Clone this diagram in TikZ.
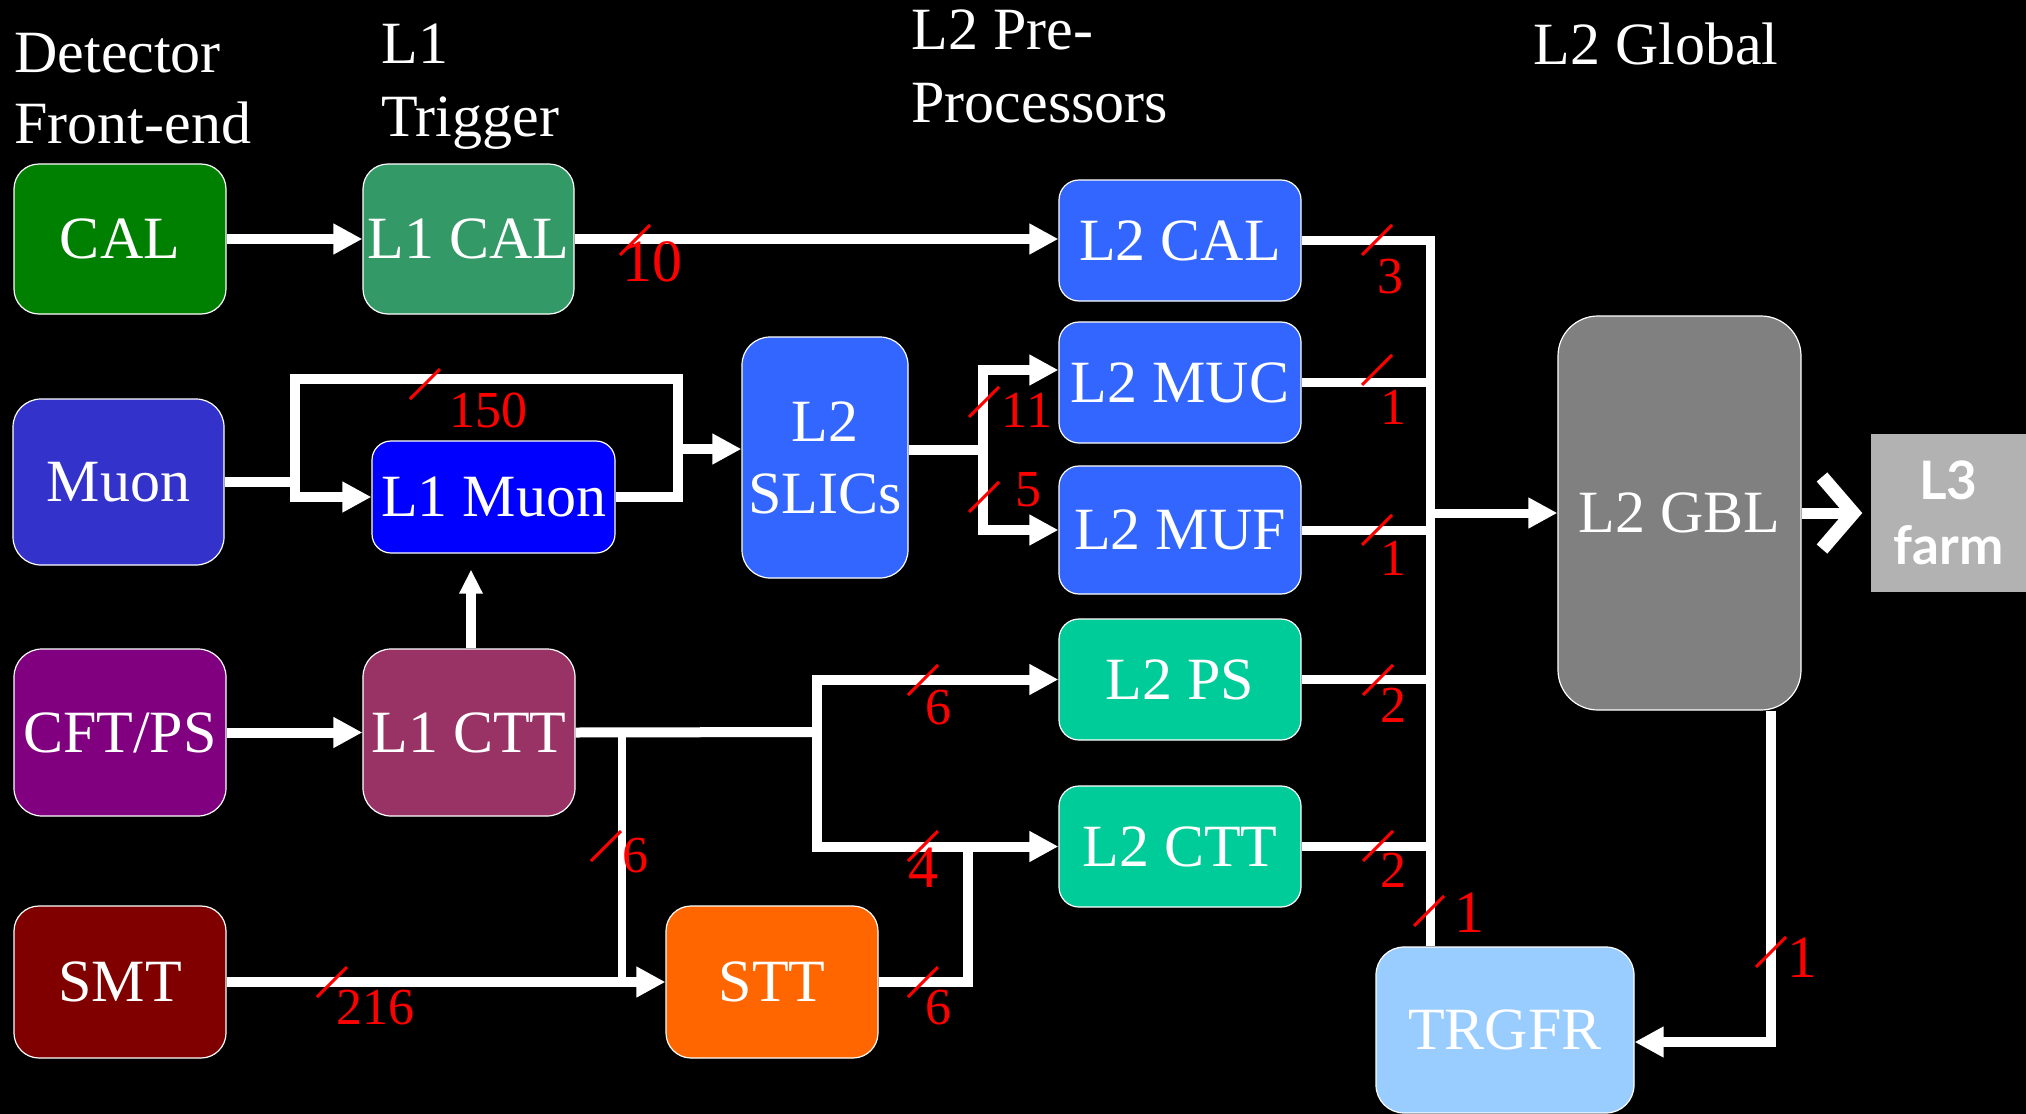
\documentclass[tikz,border=0pt]{standalone}
\usepackage{fontspec}
\setmainfont{Liberation Serif}
\newfontfamily\latofont{Lato}
\usetikzlibrary{arrows.meta}
\definecolor{cCAL}{HTML}{008000}
\definecolor{cLCAL}{HTML}{339966}
\definecolor{cMUON}{HTML}{3333CC}
\definecolor{cLMUON}{HTML}{0000FF}
\definecolor{cCFT}{HTML}{800080}
\definecolor{cLCTT}{HTML}{993366}
\definecolor{cSMT}{HTML}{800000}
\definecolor{cSTT}{HTML}{FF6600}
\definecolor{cBLUE}{HTML}{3366FF}
\definecolor{cTEAL}{HTML}{00CC99}
\definecolor{cTRG}{HTML}{99CCFF}
\definecolor{cGBL}{HTML}{808080}
\definecolor{cLTHREE}{HTML}{B2B2B2}
\begin{document}
\begin{tikzpicture}[x=0.5pt,y=-0.5pt,
  box/.style={draw=white, line width=0.6pt, text=white, inner sep=0pt,
    font=\fontsize{30}{36}\selectfont, align=center},
  hdr/.style={text=white, inner sep=0pt, anchor=base west, font=\fontsize{30}{36}\selectfont},
  wire/.style={draw=white, line width=5pt, line join=miter},
  thinwire/.style={draw=white, line width=4pt, line join=miter},
  buswire/.style={draw=white, line width=4.5pt, line join=miter},
  arrowtip/.style={-{Triangle[length=14.5pt,width=14.5pt]}},
  smalltip/.style={-{Triangle[length=12pt,width=11pt]}},
  slash/.style={draw=red, line width=1.5pt},
  num/.style={text=red, inner sep=0pt, font=\fontsize{26}{30}\selectfont},
  bignum/.style={text=red, inner sep=0pt, font=\fontsize{30}{34}\selectfont},
]
\useasboundingbox[fill=black] (0,0) rectangle (2026,1114);

% headers
\node[hdr] (h1a) at (14,72) {Detector};
\node[hdr] (h1b) at (14,143) {Front-end};
\node[hdr] (h2a) at (381,63) {L1};
\node[hdr] (h2b) at (381,136) {Trigger};
\node[hdr] (h3a) at (911,49) {L2 Pre-};
\node[hdr] (h3b) at (911,122) {Processors};
\node[hdr] (h4a) at (1533,64) {L2 Global};

% boxes
\node[box, fill=cCAL, minimum width=106pt, minimum height=75pt, rounded corners=12.5pt] (cal) at (120,239) {CAL};
\node[box, fill=cLCAL, minimum width=105.5pt, minimum height=75pt, rounded corners=12.5pt] (l1cal) at (468.5,239) {L1 CAL};
\node[box, fill=cMUON, minimum width=105.5pt, minimum height=83pt, rounded corners=14pt] (muon) at (118.5,482) {Muon};
\node[box, fill=cLMUON, minimum width=121.5pt, minimum height=56pt, rounded corners=9.5pt] (l1muon) at (493.5,497) {L1 Muon};
\node[box, fill=cCFT, minimum width=106pt, minimum height=83.5pt, rounded corners=14pt] (cft) at (120,732.5) {CFT/PS};
\node[box, fill=cLCTT, minimum width=106pt, minimum height=83.5pt, rounded corners=14pt] (l1ctt) at (469,732.5) {L1 CTT};
\node[box, fill=cSMT, minimum width=106pt, minimum height=76pt, rounded corners=12.5pt] (smt) at (120,982) {SMT};
\node[box, fill=cSTT, minimum width=106pt, minimum height=76pt, rounded corners=12.5pt] (stt) at (772,982) {STT};
\node[box, fill=cBLUE, minimum width=83pt, minimum height=120.5pt, rounded corners=14pt] (slics) at (825,457.5) {L2\\SLICs};
\node[box, fill=cBLUE, minimum width=121pt, minimum height=60.5pt, rounded corners=10pt] (l2cal) at (1180,240.5) {L2 CAL};
\node[box, fill=cBLUE, minimum width=121pt, minimum height=60.5pt, rounded corners=10pt] (l2muc) at (1180,382.5) {L2 MUC};
\node[box, fill=cBLUE, minimum width=121pt, minimum height=64pt, rounded corners=10pt] (l2muf) at (1180,530) {L2 MUF};
\node[box, fill=cTEAL, minimum width=121pt, minimum height=60.5pt, rounded corners=10pt] (l2ps) at (1180,679.5) {L2 PS};
\node[box, fill=cTEAL, minimum width=121pt, minimum height=60.5pt, rounded corners=10pt] (l2ctt) at (1180,846.5) {L2 CTT};
\node[box, fill=cTRG, minimum width=129pt, minimum height=83pt, rounded corners=14pt] (trgfr) at (1505,1030) {TRGFR};
\node[box, fill=cGBL, minimum width=121.5pt, minimum height=197pt, rounded corners=20pt] (gbl) at (1679.5,513) {L2 GBL};
\node[fill=cLTHREE, text=white, inner sep=0pt, minimum width=77.5pt, minimum height=79pt, align=center,
  font=\latofont\bfseries\fontsize{26.5}{32.5}\selectfont] (l3) at (1948.5,513) {L3\\farm};

% junction coordinates
\coordinate (mj) at (295,482);
\coordinate (mtop) at (678,379);
\coordinate (mx) at (678,449);
\coordinate (cx) at (471,0);
\coordinate (f1) at (817,732);
\coordinate (f2) at (622,732);
\coordinate (f3) at (968,846.5);
\coordinate (f4) at (983,450);
\coordinate (m1) at (983,370);
\coordinate (bt) at (1430,240.5);
\coordinate (gb) at (1771,1042);

% connectors
\draw[wire,arrowtip] (cal.east) -- (l1cal.west);
\draw[wire,arrowtip] (l1cal.east) -- (l1cal.east -| l2cal.west);
\draw[wire,arrowtip] (muon.east) -- (mj) -- (mj |- l1muon.west) -- (l1muon.west);
\draw[wire] (mj) |- (mtop) |- (l1muon.east);
\draw[wire,arrowtip] (mx) -- (mx -| slics.west);
\draw[wire,smalltip,shorten >=8pt] (l1ctt.north -| cx) -- (l1muon.south -| cx);
\draw[wire,arrowtip] (cft.east) -- (l1ctt.west);
\draw[wire] (l1ctt.east) -- (f1);
\draw[wire,arrowtip] (f1) |- (l2ps.west);
\draw[wire,arrowtip] (f1) |- (l2ctt.west);
\draw[thinwire] (f2) -- (f2 |- smt.east);
\draw[wire,arrowtip] (smt.east) -- (stt.west);
\draw[wire] (stt.east) -| (f3);
\draw[wire] (slics.east |- f4) -- (f4);
\draw[wire,arrowtip] (f4) -- (m1) -- (m1 -| l2muc.west);
\draw[wire,arrowtip] (f4) |- (l2muf.west);
\draw[buswire] (l2cal.east) -- (bt) -- (bt |- trgfr.north);
\draw[buswire] (l2muc.east) -- (l2muc.east -| bt);
\draw[buswire] (l2muf.east) -- (l2muf.east -| bt);
\draw[buswire] (l2ps.east) -- (l2ps.east -| bt);
\draw[buswire] (l2ctt.east) -- (l2ctt.east -| bt);
\draw[buswire,arrowtip] (bt |- gbl.west) -- (gbl.west);
\draw[wire,arrowtip] (gbl.south -| gb) -- (gb) -- (gb -| trgfr.east);
% thick chevron to L3 farm
\coordinate (ch) at (1853,513);
\draw[draw=white, line width=5.5pt] (gbl.east) -- (ch);
\draw[draw=white, line width=7pt, line join=miter] (1822,477) -- (ch) -- (1822,549);

% slash marks
\foreach \cxx/\cyy in {635/240, 425/384, 984/402, 984/497, 1377/240, 1377/370, 1377/530,
  1378/680, 1378/846, 1429/911, 1771/952, 606/846, 332/982, 923/982, 923/680, 923/846}
  \draw[slash] (\cxx-15,\cyy+15) -- (\cxx+15,\cyy-15);

% numbers
\node[bignum] (n10) at (652,262) {10};
\node[num] (n150) at (488,410) {150};
\node[num] (n11) at (1027,410) {11};
\node[num] (n5) at (1028,490) {5};
\node[num] (n3) at (1390,277) {3};
\node[num] (n1a) at (1393,407) {1};
\node[num] (n1b) at (1393,558) {1};
\node[num] (n2a) at (1393,705) {2};
\node[num] (n2b) at (1393,870) {2};
\node[bignum] (n1c) at (1469,913) {1};
\node[bignum] (n1d) at (1802,958) {1};
\node[num] (n6a) at (635,856) {6};
\node[num] (n216) at (375,1008) {216};
\node[num] (n6b) at (938,1008) {6};
\node[num] (n6c) at (938,708) {6};
\node[bignum] (n4) at (923,868) {4};
\end{tikzpicture}
\end{document}
